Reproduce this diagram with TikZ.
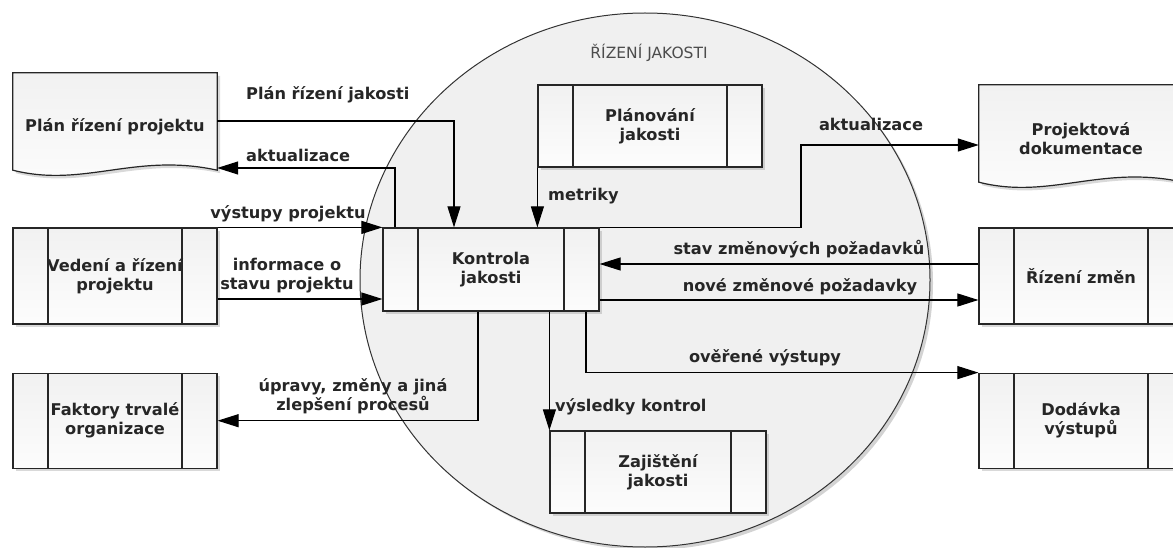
\documentclass[tikz,border=0pt]{standalone}
\usepackage{fontspec}
\setmainfont{DejaVu Sans}
\usetikzlibrary{positioning, arrows.meta, shadows, backgrounds, calc}
\newcommand{\lblfont}{\fontsize{16.2}{19}\selectfont\bfseries}
\tikzset{
  shade box/.style={line width=1.2pt, draw=black!85, top color=gray!11, bottom color=gray!2},
  shadowed/.style={drop shadow={shadow xshift=3pt, shadow yshift=-3pt, opacity=.3}},
  procbox/.style={shade box, shadowed, align=center, font=\lblfont, text=black!85, inner sep=0pt,
    path picture={
      \draw[line width=1.1pt, black!85] ([xshift=35pt]path picture bounding box.north west) -- ([xshift=35pt]path picture bounding box.south west);
      \draw[line width=1.1pt, black!85] ([xshift=-35pt]path picture bounding box.north east) -- ([xshift=-35pt]path picture bounding box.south east);}},
  docbox/.style={align=center, font=\lblfont, text=black!85, inner sep=0pt, minimum width=204pt, minimum height=107pt},
  docline/.style={shade box, shadowed},
  zone/.style={line width=1pt, draw=black!80, fill=gray!12, drop shadow={shadow xshift=3pt, shadow yshift=-3pt, opacity=.35}},
  zonetitle/.style={font=\fontsize{15.5}{18}\selectfont, text=black!70},
  arr/.style={-{Triangle[length=21pt,width=13pt]}, line width=1.1pt},
  lbl/.style={font=\lblfont, text=black!85, align=center, inner sep=0pt}
}

\begin{document}
\begin{tikzpicture}[x=1pt, y=-1pt]
\useasboundingbox (0,0) rectangle (1173,548);
\clip (0,0) rectangle (1173,548);

% quality management zone
\draw[zone] (645,280) ellipse [x radius=285pt, y radius=267pt];
\node[zonetitle] (ztitle) at (649,53) {ŘÍZENÍ JAKOSTI};

% processes
\node[procbox, minimum width=204pt, minimum height=96pt] (vedeni) at (115,276) {Vedení a řízení\\projektu};
\node[procbox, minimum width=204pt, minimum height=95pt, below=48pt of vedeni] (faktory) {Faktory trvalé\\organizace};
\node[procbox, minimum width=216pt, minimum height=83pt] (kontrola) at (491,269.5) {Kontrola\\jakosti};
\node[procbox, minimum width=224pt, minimum height=82pt] (planovani) at (650,126) {Plánování\\jakosti};
\node[procbox, minimum width=216pt, minimum height=82pt] (zajisteni) at (658,472) {Zajištění\\jakosti};
\node[procbox, minimum width=204pt, minimum height=96pt] (rizeni) at (1081,276) {Řízení změn};
\node[procbox, minimum width=204pt, minimum height=95pt, below=48pt of rizeni] (dodavka) {Dodávka\\výstupů};

% documents
\node[docbox] (plan) at (115,126.5) {Plán řízení projektu};
\node[docbox] (projdok) at (1081,138.5) {Projektová\\dokumentace};
\begin{scope}[on background layer]
\clip (0,0) rectangle (1173,548);
\foreach \d in {plan, projdok}
  \draw[docline] (\d.north west) -- (\d.north east) -- ([yshift=10pt]\d.south east)
    .. controls ([xshift=-82pt, yshift=28pt]\d.south east) and ([xshift=71pt, yshift=-8pt]\d.south west) .. ([yshift=10pt]\d.south west) -- cycle;
\end{scope}

% flows
\coordinate (bend) at (801,145);
\draw[arr] ([yshift=5.5pt]plan.east) -| ([xshift=-37pt]kontrola.north);
\draw[arr] ([xshift=-96pt]kontrola.north) |- ([yshift=-41.5pt]plan.east);
\draw[arr] (vedeni.north east) -- (kontrola.north west);
\draw[arr] ([yshift=-23pt]vedeni.east) -- ([yshift=-23pt]vedeni.east -| kontrola.west);
\draw[arr] (planovani.south west) -- (planovani.south west |- kontrola.north);
\draw[arr] (kontrola.north east) -| (bend) -- (bend -| projdok.west);
\draw[arr] ([yshift=12pt]rizeni.west) -- ([yshift=12pt]rizeni.west -| kontrola.east);
\draw[arr] ([yshift=-30.5pt]kontrola.east) -- ([yshift=-30.5pt]kontrola.east -| rizeni.west);
\draw[arr] ([xshift=95pt]kontrola.south) |- (dodavka.north west);
\draw[arr] ([xshift=-13pt]kontrola.south) |- (faktory.east);
\draw[arr] (zajisteni.north west |- kontrola.south) -- (zajisteni.north west);

% flow labels
\node[lbl, anchor=west] (lplan) at (246,95) {Plán řízení jakosti};
\node[lbl, anchor=west] (lakt) at (246,155) {aktualizace};
\node[lbl] (lvyst) at (288,214) {výstupy projektu};
\node[lbl] (linfo) at (287,276) {informace o\\stavu projektu};
\node[lbl, anchor=west] (lmetr) at (548,196) {metriky};
\node[lbl] (lakt2) at (871,124) {aktualizace};
\node[lbl] (lstav) at (799,249) {stav změnových požadavků};
\node[lbl] (lnove) at (800,287) {nové změnové požadavky};
\node[lbl] (lover) at (765,358) {ověřené výstupy};
\node[lbl, anchor=west] (lvysl) at (555,407) {výsledky kontrol};
\node[lbl] (lupr) at (353,396) {úpravy, změny a jiná\\zlepšení procesů};
\end{tikzpicture}
\end{document}
